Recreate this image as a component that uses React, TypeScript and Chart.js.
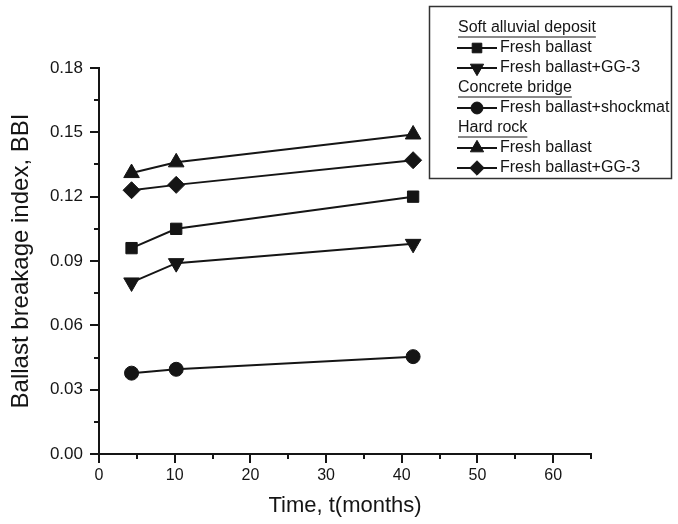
import React, { useEffect, useRef } from 'react';
import { Chart, registerables } from 'chart.js';
import { drawPoint } from 'chart.js/helpers';

Chart.register(...registerables);

// ---- data ----
const months = [4.3, 10.2, 41.5];
const softFreshBBI = [0.096, 0.105, 0.120];
const softGG3BBI = [0.080, 0.089, 0.098];
const concreteShockmatBBI = [0.0377, 0.0395, 0.0454];
const hardFreshBBI = [0.131, 0.136, 0.149];
const hardGG3BBI = [0.123, 0.1255, 0.137];

const seriesLabels = [
  'Fresh ballast',
  'Fresh ballast+GG-3',
  'Fresh ballast+shockmat',
  'Fresh ballast',
  'Fresh ballast+GG-3',
];
const groupTitles = ['Soft alluvial deposit', 'Concrete bridge', 'Hard rock'];
const groupMembers = [[0, 1], [2], [3, 4]];

const xTicks = [0, 10, 20, 30, 40, 50, 60];
const xMinorTicks = [5, 15, 25, 35, 45, 55, 65];
const yTicks = [0, 0.03, 0.06, 0.09, 0.12, 0.15, 0.18];
const yMinorTicks = [0.015, 0.045, 0.075, 0.105, 0.135, 0.165];

const xTitle = 'Time, t(months)';
const yTitle = 'Ballast breakage index, BBI';

const FONT = "'Liberation Sans', Arial, Helvetica, sans-serif";
const INK = '#151515';

const markerStyles = [
  { pointStyle: 'rect', radius: 8, rotation: 0 },
  { pointStyle: 'triangle', radius: 9, rotation: 180 },
  { pointStyle: 'circle', radius: 7, rotation: 0 },
  { pointStyle: 'triangle', radius: 9, rotation: 0 },
  { pointStyle: 'rectRot', radius: 8.5, rotation: 0 },
];

const seriesValues = [softFreshBBI, softGG3BBI, concreteShockmatBBI, hardFreshBBI, hardGG3BBI];

const tickPlugin = {
  id: 'minorMajorTicks',
  afterDraw(chart: any) {
    const { ctx, chartArea } = chart;
    const xs = chart.scales.x;
    const ys = chart.scales.y;
    ctx.save();
    ctx.strokeStyle = INK;
    ctx.lineWidth = 2;
    ctx.beginPath();
    xTicks.forEach((v) => {
      const px = Math.round(xs.getPixelForValue(v));
      ctx.moveTo(px, chartArea.bottom);
      ctx.lineTo(px, chartArea.bottom + 9);
    });
    xMinorTicks.forEach((v) => {
      const px = Math.round(xs.getPixelForValue(v));
      ctx.moveTo(px, chartArea.bottom);
      ctx.lineTo(px, chartArea.bottom + 5);
    });
    yTicks.forEach((v) => {
      const py = Math.round(ys.getPixelForValue(v));
      ctx.moveTo(chartArea.left, py);
      ctx.lineTo(chartArea.left - 9, py);
    });
    yMinorTicks.forEach((v) => {
      const py = Math.round(ys.getPixelForValue(v));
      ctx.moveTo(chartArea.left, py);
      ctx.lineTo(chartArea.left - 5, py);
    });
    ctx.stroke();
    ctx.restore();
  },
};

const legendPlugin = {
  id: 'groupedLegend',
  afterDraw(chart: any) {
    const ctx = chart.ctx;
    const boxX = 429.5, boxY = 6.5, boxW = 242, boxH = 172;
    ctx.save();
    ctx.fillStyle = '#ffffff';
    ctx.fillRect(boxX, boxY, boxW, boxH);
    ctx.strokeStyle = '#333';
    ctx.lineWidth = 1.5;
    ctx.strokeRect(boxX, boxY, boxW, boxH);

    ctx.font = `16px ${FONT}`;
    ctx.textBaseline = 'middle';
    ctx.textAlign = 'left';
    let row = 0;
    const rowY = (r: number) => 28 + r * 20;
    groupTitles.forEach((title, gi) => {
      const y = rowY(row++);
      ctx.fillStyle = INK;
      ctx.fillText(title, 458, y);
      const w = ctx.measureText(title).width;
      ctx.strokeStyle = INK;
      ctx.lineWidth = 1.2;
      ctx.beginPath();
      ctx.moveTo(458, y + 9);
      ctx.lineTo(458 + w, y + 9);
      ctx.stroke();
      groupMembers[gi].forEach((di) => {
        const yy = rowY(row++);
        ctx.strokeStyle = INK;
        ctx.lineWidth = 2;
        ctx.beginPath();
        ctx.moveTo(457, yy);
        ctx.lineTo(497, yy);
        ctx.stroke();
        const m = markerStyles[di];
        ctx.fillStyle = INK;
        ctx.strokeStyle = INK;
        ctx.lineWidth = 1;
        drawPoint(ctx, { pointStyle: m.pointStyle, radius: m.radius * 0.85, rotation: m.rotation, borderWidth: 1 } as any, 477, yy);
        ctx.fillStyle = INK;
        ctx.fillText(seriesLabels[di], 500, yy);
      });
    });
    ctx.restore();
  },
};

export default function App() {
  const canvasRef = useRef<HTMLCanvasElement | null>(null);

  useEffect(() => {
    if (!canvasRef.current) return;
    const datasets = seriesValues.map((vals, i) => ({
      label: seriesLabels[i],
      data: months.map((m, j) => ({ x: m, y: vals[j] })),
      borderColor: INK,
      borderWidth: 2,
      backgroundColor: INK,
      pointBackgroundColor: INK,
      pointBorderColor: INK,
      pointBorderWidth: 1,
      pointStyle: markerStyles[i].pointStyle as any,
      pointRadius: markerStyles[i].radius,
      pointRotation: markerStyles[i].rotation,
      showLine: true,
      fill: false,
      tension: 0,
    }));

    const chart = new Chart(canvasRef.current, {
      type: 'line',
      data: { datasets },
      options: {
        animation: false,
        responsive: false,
        layout: { padding: { top: 68, right: 87, left: 0, bottom: 0 } },
        plugins: { legend: { display: false }, tooltip: { enabled: false } },
        scales: {
          x: {
            type: 'linear',
            min: 0,
            max: 65,
            afterBuildTicks: (s: any) => {
              s.ticks = xTicks.map((v) => ({ value: v }));
            },
            afterFit: (s: any) => {
              s.height = 70;
            },
            ticks: {
              autoSkip: false,
              maxRotation: 0,
              padding: 12,
              color: INK,
              font: { family: FONT, size: 16 },
              callback: (v: any) => String(v),
            },
            grid: { display: false, drawTicks: false },
            border: { display: true, color: INK, width: 2 },
            title: {
              display: true,
              text: xTitle,
              color: INK,
              font: { family: FONT, size: 22 },
              padding: { top: 0, bottom: 5 },
            },
          },
          y: {
            type: 'linear',
            min: 0,
            max: 0.18,
            afterBuildTicks: (s: any) => {
              s.ticks = yTicks.map((v) => ({ value: v }));
            },
            afterFit: (s: any) => {
              s.width = 99;
            },
            ticks: {
              autoSkip: false,
              padding: 16,
              color: INK,
              font: { family: FONT, size: 17 },
              callback: (v: any) => Number(v).toFixed(2),
            },
            grid: { display: false, drawTicks: false },
            border: { display: true, color: INK, width: 2 },
            title: {
              display: true,
              text: yTitle,
              color: INK,
              font: { family: FONT, size: 24 },
              padding: { top: 7, bottom: 0 },
            },
          },
        },
      },
      plugins: [tickPlugin, legendPlugin],
    });
    return () => chart.destroy();
  }, []);

  return (
    <div style={{ position: 'absolute', left: 0, top: 0, width: 678, height: 524, background: '#fff' }}>
      <canvas ref={canvasRef} width={678} height={524} style={{ width: 678, height: 524, display: 'block' }} />
    </div>
  );
}
